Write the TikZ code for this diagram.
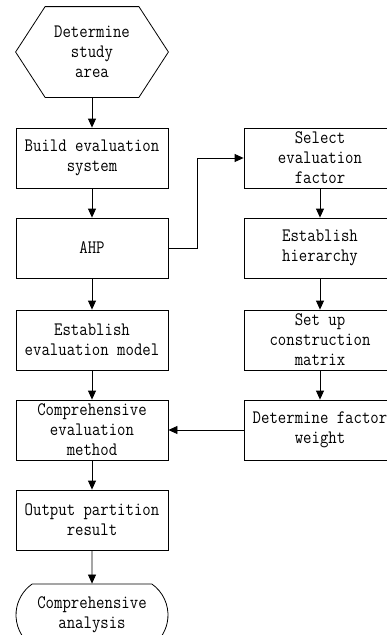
\documentclass[tikz,border=0pt]{standalone}
\usepackage{fontspec}
\setmonofont[FakeStretch=0.86]{Latin Modern Mono}
\usetikzlibrary{arrows.meta,shapes.misc}

\tikzset{
  stepbox/.style={draw, rectangle, minimum width=152pt, minimum height=60pt,
    inner sep=0pt, align=center},
  arr/.style={-{Triangle[length=9pt,width=8pt]}},
}

\begin{document}
\begin{tikzpicture}[x=1pt, y=-1pt, line width=0.8pt,
    font=\ttfamily\fontsize{19}{20}\selectfont]
\useasboundingbox (0,0) rectangle (387,635);
\clip (0,0) rectangle (387,635);

% main column
\node[minimum width=152pt, minimum height=90pt, inner sep=0pt, align=center] (area) at (92,52) {Determine\\study\\area};
\draw (area.west) -- ([xshift=29.5pt]area.north west) -- ([xshift=-29.5pt]area.north east)
  -- (area.east) -- ([xshift=-29.5pt]area.south east) -- ([xshift=29.5pt]area.south west) -- cycle;

\node[stepbox] (build) at (92,158) {Build evaluation\\system};
\node[stepbox] (ahp) at (92,248) {AHP};
\node[stepbox] (model) at (92,340) {Establish\\evaluation model};
\node[stepbox] (method) at (92,430) {Comprehensive\\evaluation\\method};
\node[stepbox] (output) at (92,520) {Output partition\\result};
\node[draw, rounded rectangle, rounded rectangle arc length=110, minimum width=152pt,
  minimum height=62pt, inner sep=0pt, align=center] (analysis) at (92,615) {Comprehensive\\analysis};

% AHP column
\node[stepbox] (select) at (320,158) {Select\\evaluation\\factor};
\node[stepbox] (hier) at (320,248) {Establish\\hierarchy};
\node[stepbox] (matrix) at (320,340) {Set up\\construction\\matrix};
\node[stepbox] (weight) at (320,430) {Determine factor\\weight};

\draw[arr] (area) -- (build);
\draw[arr] (build) -- (ahp);
\draw[arr] (ahp) -- (model);
\draw[arr] (model) -- (method);
\draw[arr] (method) -- (output);
\draw[arr] (output) -- (analysis);

\draw[arr] (ahp.east) -- ++(29,0) |- (select.west);
\draw[arr] (select) -- (hier);
\draw[arr] (hier) -- (matrix);
\draw[arr] (matrix) -- (weight);
\draw[arr] (weight) -- (method);
\end{tikzpicture}
\end{document}
